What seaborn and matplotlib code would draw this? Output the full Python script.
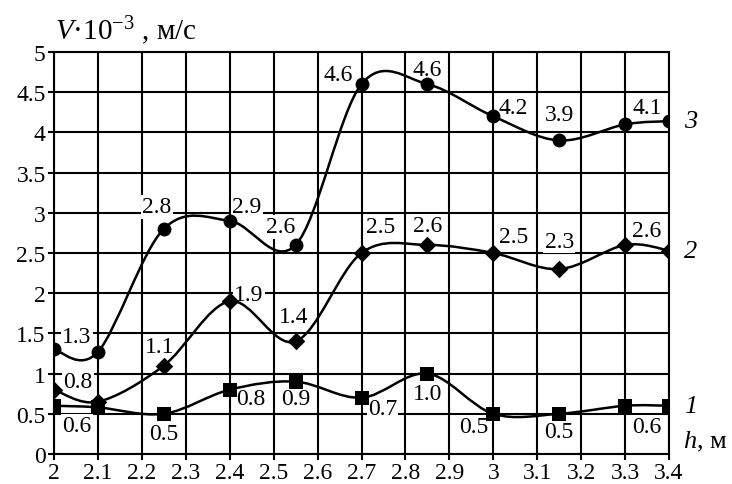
import numpy as np
import pandas as pd
import matplotlib
matplotlib.use("Agg")
import matplotlib.pyplot as plt
from matplotlib.path import Path
from matplotlib.patches import PathPatch
import seaborn as sns

# Flow velocity V (x10^-3 m/s) against depth h (m) for three regimes
h = [2.0, 2.1, 2.25, 2.4, 2.55, 2.7, 2.85, 3.0, 3.15, 3.3, 3.4]
v1 = [0.6, 0.58, 0.5, 0.8, 0.9, 0.7, 1.0, 0.5, 0.5, 0.6, 0.6]
v2 = [0.8, 0.65, 1.1, 1.9, 1.4, 2.5, 2.6, 2.5, 2.3, 2.6, 2.53]
v3 = [1.3, 1.27, 2.8, 2.9, 2.6, 4.6, 4.6, 4.2, 3.9, 4.1, 4.14]
labelled = [True, False, True, True, True, True, True, True, True, True, False]
series_names = ["1", "2", "3"]

x_ticks = [2.0, 2.1, 2.2, 2.3, 2.4, 2.5, 2.6, 2.7, 2.8, 2.9, 3.0, 3.1, 3.2, 3.3, 3.4]
x_tick_labels = ["2", "2.1", "2.2", "2.3", "2.4", "2.5", "2.6", "2.7", "2.8",
                 "2.9", "3", "3.1", "3.2", "3.3", "3.4"]
y_ticks = [0, 0.5, 1, 1.5, 2, 2.5, 3, 3.5, 4, 4.5, 5]
y_tick_labels = ["0", "0.5", "1", "1.5", "2", "2.5", "3", "3.5", "4", "4.5", "5"]

# value-label offsets in pixels (dx, dy) for each point
off1 = [(23, -20), None, (0, -20), (21, -9), (0, -17), (21, -11), (0, -20),
        (-20, -13), (0, -18), (22, -21), None]
off2 = [(24, 8), None, (-4, 19), (19, 7), (-2, 25), (19, 26), (0, 19),
        (20, 16), (0, 28), (22, 14), None]
off3 = [(23, 13), None, (-7, 22), (17, 14), (-15, 18), (-23, 10), (0, 15),
        (20, 9), (0, 26), (22, 17), None]

sns.set_theme(style="white")
plt.rcParams["font.family"] = ["Liberation Serif", "DejaVu Serif"]
plt.rcParams["mathtext.fontset"] = "custom"
plt.rcParams["mathtext.rm"] = "Liberation Serif"
plt.rcParams["mathtext.it"] = "Liberation Serif:italic"

FS = 17
LW = 1.5


def smooth_path(x, y):
    """Catmull-Rom style Bezier path through the points."""
    pts = np.column_stack([x, y]).astype(float)
    n = len(pts)
    verts = [pts[0]]
    codes = [Path.MOVETO]
    for i in range(n - 1):
        p0 = pts[max(i - 1, 0)]
        p1 = pts[i]
        p2 = pts[i + 1]
        p3 = pts[min(i + 2, n - 1)]
        verts += [p1 + (p2 - p0) / 6.0, p2 - (p3 - p1) / 6.0, p2]
        codes += [Path.CURVE4] * 3
    return Path(verts, codes)


fig = plt.figure(figsize=(7.32, 4.85), dpi=100)
ax = fig.add_axes([54 / 732, 30 / 485, 615 / 732, 402 / 485])

series = [(v1, "s", 95, off1), (v2, "D", 80, off2), (v3, "o", 100, off3)]
for vals, marker, size, offs in series:
    ax.add_patch(PathPatch(smooth_path(h, vals), facecolor="none",
                           edgecolor="black", lw=1.8, zorder=4))
    df = pd.DataFrame({"h": h, "V": vals})
    sns.scatterplot(data=df, x="h", y="V", marker=marker, s=size,
                    color="black", edgecolor="black", linewidth=0,
                    ax=ax, zorder=5, legend=False)
    for xi, yi, show, off in zip(h, vals, labelled, offs):
        if show and off is not None:
            ax.annotate(f"{yi:.1f}", (xi, yi), xytext=off,
                        textcoords="offset pixels", ha="center", va="center",
                        fontsize=FS, color="black", zorder=3,
                        bbox=dict(boxstyle="square,pad=0.05", fc="white",
                                  ec="none"))

ax.set_xlim(2.0, 3.4)
ax.set_ylim(0, 5)
ax.set_xticks(x_ticks)
ax.set_xticklabels(x_tick_labels)
ax.set_yticks(y_ticks)
ax.set_yticklabels(y_tick_labels)
ax.set_xlabel("")
ax.set_ylabel("")
ax.grid(True, color="black", lw=LW)
ax.set_axisbelow(True)
for sp in ax.spines.values():
    sp.set_color("black")
    sp.set_linewidth(LW)
ax.tick_params(axis="both", direction="out", length=4, width=LW,
               color="black", labelsize=FS, labelcolor="black", pad=2,
               bottom=True, left=True)

# series numbers at the right end of each curve
for name, vals in zip(series_names, [v1, v2, v3]):
    ax.annotate(name, (h[-1], vals[-1]), xytext=(22, 0),
                textcoords="offset pixels", ha="center", va="center",
                fontsize=19, style="italic", color="black",
                annotation_clip=False)

fig.text(55 / 732, 1 - 40 / 485, "$V$·10$^{-3}$ , м/с", fontsize=21,
         ha="left", va="baseline", color="black")
fig.text(683 / 732, 1 - 448 / 485, "$h$, м", fontsize=19,
         ha="left", va="baseline", color="black")

fig.savefig("out.png", dpi=100, facecolor="white")
